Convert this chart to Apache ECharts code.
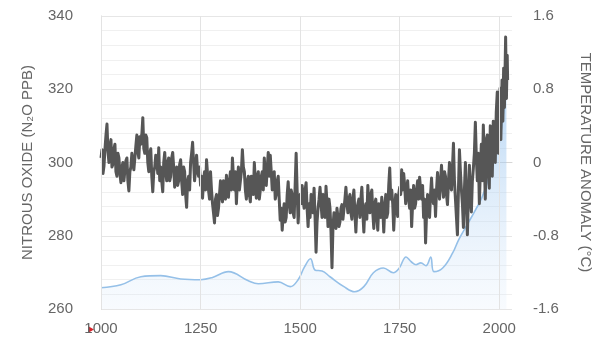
<!DOCTYPE html>
<html>
<head>
<meta charset="utf-8">
<script src="https://cdn.jsdelivr.net/npm/echarts@6/dist/echarts.min.js"></script>
<style>
  html, body { margin: 0; padding: 0; background: #fff; }
  #chart { width: 601px; height: 339px; }
</style>
</head>
<body>
<div id="chart"></div>
<script>
// X axis ticks (years)
const yearTicks = [1000, 1250, 1500, 1750, 2000];

// Nitrous oxide concentration (ppb), smoothed record
const n2oYears = [1000, 1050, 1100, 1150, 1200, 1250, 1280, 1320, 1370, 1395, 1445, 1475, 1495,
  1511, 1526, 1538, 1555, 1575, 1610, 1637, 1660, 1684, 1709, 1734, 1749, 1766, 1779, 1791,
  1803, 1816, 1828, 1836, 1858, 1883, 1898, 1922, 1940, 1957, 1982, 2000, 2010, 2018];
const n2oPpb = [265.8, 266.6, 268.8, 269.1, 268.2, 268.0, 268.6, 270.2, 267.7, 266.9, 267.4, 266.1, 268.0,
  271.5, 273.7, 270.6, 270.4, 268.8, 266.1, 264.7, 266.1, 269.9, 271.2, 269.9, 271.2, 274.2, 272.9, 272.1,
  272.6, 271.8, 274.2, 270.2, 271.2, 275.3, 278.9, 283.5, 287.0, 290.6, 298.8, 306.0, 313.0, 320.0];

// Temperature anomaly (°C) on a 5-year grid from 1000 to 1995
const tempStart = 1000;
const tempStep = 5;
const tempAnomaly = [
  0.05, -0.12, 0.15, 0.42, 0.0, 0.25, -0.02, 0.2, -0.15, 0.05,
  -0.22, 0.0, -0.18, 0.05, -0.31, -0.05, 0.12, -0.1, 0.30, 0.05,
  0.2, 0.49, 0.1, 0.27, -0.1, 0.15, -0.32, -0.05, 0.05, 0.16,
  -0.05, -0.32, 0.11, -0.2, 0.05, -0.15, 0.11, -0.27, -0.05, -0.2,
  0.03, -0.35, -0.1, -0.49, -0.15, 0.0, 0.22, -0.2, 0.08, -0.15,
  -0.25, -0.39, -0.1, 0.03, -0.3, -0.1, -0.45, -0.66, -0.35, -0.5,
  -0.2, -0.43, -0.25, -0.14, -0.38, -0.1, 0.05, -0.3, -0.45, -0.05,
  -0.2, 0.14, -0.1, -0.4, -0.15, -0.43, -0.2, 0.0, -0.39, -0.1,
  -0.3, -0.1, 0.05, -0.25, 0.11, 0.08, -0.3, -0.1, -0.35, -0.15,
  -0.63, -0.74, -0.45, -0.6, -0.21, -0.55, -0.35, -0.6, 0.1, -0.66,
  -0.35, -0.25, -0.5, -0.22, -0.7, -0.6, -0.4, -0.28, -0.98, -0.5,
  -0.27, -0.6, -0.4, -0.26, -0.7, -0.5, -1.15, -0.55, -0.72, -0.5,
  -0.65, -0.46, -0.6, -0.27, -0.55, -0.35, -0.62, -0.3, -0.76, -0.45,
  -0.6, -0.27, -0.76, -0.45, -0.25, -0.55, -0.3, -0.72, -0.4, -0.74,
  -0.5, -0.38, -0.76, -0.35, -0.55, -0.06, -0.3, -0.74, -0.35, -0.59,
  -0.27, -0.08, -0.12, -0.45, -0.2, -0.5, -0.7, -0.25, -0.45, -0.2,
  -0.16, -0.4, -0.6, -0.88, -0.35, -0.6, -0.17, -0.45, -0.59, -0.11,
  -0.4, -0.03, -0.38, -0.15, -0.46, 0.0, -0.3, 0.21, -0.4, -0.79,
  0.14, -0.3, -0.71, 0.0, -0.79, -0.03, -0.54, -0.06, 0.44, -0.2,
  -0.45, 0.2, 0.41, -0.4, 0.30, -0.28, 0.35, 0.45, 0.0, 0.77
];
// Temperature anomaly (°C) at the half-way years 1002.5 ... 1997.5
const tempAnomalyMid = [
  0.14, -0.04, 0.3, 0.12, 0.18, -0.05, 0.15, -0.1, 0.1, -0.12,
  -0.05, -0.2, 0.02, -0.2, -0.1, 0.1, -0.08, 0.18, 0.12, 0.28,
  0.3, 0.15, 0.3, 0.0, 0.1, -0.15, -0.1, 0.08, -0.12, -0.2,
  -0.2, 0.0, -0.1, 0.0, -0.2, 0.05, -0.05, -0.1, -0.25, -0.02,
  -0.2, -0.05, -0.35, -0.2, -0.3, 0.1, 0.0, -0.05, -0.1, -0.05,
  -0.15, -0.2, -0.3, -0.12, -0.4, -0.3, -0.55, -0.4, -0.58, -0.35,
  -0.35, -0.2, -0.4, -0.3, -0.2, -0.3, -0.15, -0.1, -0.2, -0.3,
  -0.1, -0.05, -0.3, -0.2, -0.35, -0.15, -0.35, -0.2, -0.15, -0.4,
  -0.15, -0.3, -0.15, -0.05, -0.15, -0.1, -0.15, -0.4, -0.2, -0.4,
  -0.5, -0.55, -0.65, -0.35, -0.45, -0.3, -0.55, -0.25, -0.3, -0.45,
  -0.45, -0.4, -0.3, -0.5, -0.45, -0.35, -0.55, -0.6, -0.65, -0.4,
  -0.45, -0.35, -0.6, -0.45, -0.4, -0.75, -0.7, -0.6, -0.5, -0.7,
  -0.5, -0.62, -0.4, -0.45, -0.4, -0.55, -0.4, -0.55, -0.5, -0.4,
  -0.4, -0.55, -0.5, -0.62, -0.45, -0.35, -0.55, -0.45, -0.6, -0.45,
  -0.6, -0.5, -0.5, -0.6, -0.25, -0.4, -0.45, -0.5, -0.5, -0.35,
  -0.35, -0.3, -0.25, -0.3, -0.4, -0.3, -0.45, -0.5, -0.3, -0.4,
  -0.3, -0.25, -0.4, -0.55, -0.5, -0.35, -0.4, -0.3, -0.3, -0.3,
  -0.2, -0.25, -0.1, -0.35, -0.2, -0.25, -0.05, -0.2, -0.6, -0.3,
  -0.1, -0.45, -0.3, -0.4, -0.35, -0.4, -0.2, 0.1, 0.05, 0.1,
  -0.1, -0.2, 0.0, 0.25, -0.1, 0.4, -0.15, 0.3, 0.55, 0.1
];
// Recent years
const tempRecentYears = [2000, 2002, 2004, 2007, 2009, 2011, 2013, 2016, 2018, 2020, 2021];
const tempRecent = [0.5, 0.81, 0.25, 0.9, 0.45, 1.03, 0.6, 1.37, 0.7, 1.17, 0.9];

const tempData = [];
tempAnomaly.forEach((v, i) => {
  const y = tempStart + i * tempStep;
  tempData.push([y, v]);
  tempData.push([y + tempStep / 2, tempAnomalyMid[i]]);
});
tempRecentYears.forEach((y, i) => tempData.push([y, tempRecent[i]]));

const n2oData = n2oYears.map((y, i) => [y, n2oPpb[i]]);

const font = 'Liberation Sans, Arial, sans-serif';
const labelColor = '#666';

const chart = echarts.init(document.getElementById('chart'), null, { renderer: 'canvas' });
chart.setOption({
  animation: false,
  backgroundColor: '#fff',
  grid: { left: 101, right: 84, top: 16, bottom: 30, containLabel: false },
  xAxis: {
    type: 'value',
    min: 1000,
    max: 2032,
    interval: 250,
    axisLine: { show: true, lineStyle: { color: '#d6d6d6', width: 1 } },
    axisTick: { show: true, customValues: yearTicks, length: 13, lineStyle: { color: '#dcdcdc' } },
    axisLabel: {
      customValues: yearTicks,
      formatter: v => String(v),
      color: labelColor, fontSize: 15, fontFamily: font, margin: 12
    },
    splitLine: { show: false }
  },
  yAxis: [{
    type: 'value',
    min: 260,
    max: 340,
    interval: 20,
    position: 'left',
    name: 'NITROUS OXIDE (N\u2082O PPB)',
    nameLocation: 'middle',
    nameGap: 66,
    nameRotate: 90,
    nameTextStyle: { color: labelColor, fontSize: 15, fontFamily: font },
    axisLine: { show: true, lineStyle: { color: '#d6d6d6' } },
    axisTick: { show: false },
    axisLabel: { color: labelColor, fontSize: 15, fontFamily: font, margin: 28 },
    splitLine: { show: true, lineStyle: { color: '#e6e6e6', width: 1 } },
    minorTick: { show: false, splitNumber: 5 },
    minorSplitLine: { show: true, lineStyle: { color: '#f0f0f0', width: 1 } }
  }, {
    type: 'value',
    min: -1.6,
    max: 1.6,
    interval: 0.8,
    position: 'right',
    name: 'TEMPERATURE ANOMALY (\u00B0C)',
    nameLocation: 'middle',
    nameGap: 66,
    nameRotate: -90,
    nameTextStyle: { color: labelColor, fontSize: 15, fontFamily: font },
    axisLine: { show: false },
    axisTick: { show: false },
    axisLabel: { color: labelColor, fontSize: 15, fontFamily: font, margin: 21 },
    splitLine: { show: false }
  }],
  series: [{
    name: 'N2O',
    type: 'line',
    yAxisIndex: 0,
    data: n2oData,
    smooth: 0.4,
    symbol: 'none',
    lineStyle: { color: '#95c0e8', width: 1.6 },
    areaStyle: {
      origin: 'start',
      color: new echarts.graphic.LinearGradient(0, 0, 0, 1, [
        { offset: 0, color: 'rgba(135,186,236,0.85)' },
        { offset: 1, color: 'rgba(215,232,250,0.25)' }
      ])
    },
    markLine: {
      silent: true,
      symbol: 'none',
      label: { show: false },
      lineStyle: { color: '#e3e3e3', width: 1, type: 'solid' },
      data: yearTicks.map(y => ({ xAxis: y }))
    },
    z: 2
  }, {
    name: 'Temperature',
    type: 'line',
    yAxisIndex: 1,
    data: tempData,
    symbol: 'none',
    lineStyle: { color: '#565656', width: 3, join: 'round' },
    z: 3
  }],
  graphic: [{
    type: 'polygon',
    shape: { points: [[88, 326], [94, 329.5], [88, 333]] },
    style: { fill: '#d9232a' }
  }]
});
</script>
</body>
</html>
